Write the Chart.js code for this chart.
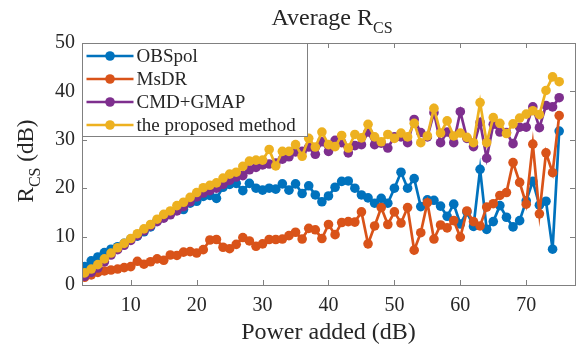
<!DOCTYPE html>
<html>
<head>
  <meta charset="UTF-8">
  <title>Average RCS</title>
  <script src="https://cdn.jsdelivr.net/npm/chart.js@4/dist/chart.umd.min.js"></script>
  <style>
    body { margin: 0; background: #fff; }
    #wrap { width: 582px; height: 347px; }
  </style>
</head>
<body>
  <div id="wrap"><canvas id="rcsChart" width="582" height="347"></canvas></div>

  <script>
    // x: power added (dB)
    const powerAdded = [3, 4, 5, 6, 7, 8, 9, 10, 11, 12, 13, 14, 15, 16, 17, 18, 19, 20, 21, 22, 23, 24, 25, 26, 27, 28, 29, 30,
      31, 32, 33, 34, 35, 36, 37, 38, 39, 40, 41, 42, 43, 44, 45, 46, 47, 48, 49, 50, 51, 52, 53, 54, 55, 56, 57, 58, 59, 60,
      61, 62, 63, 64, 65, 66, 67, 68, 69, 70, 71, 72, 73, 74, 75];

    const obspol = [3.8, 5.0, 5.8, 6.7, 7.4, 7.9, 8.6, 9.5, 10.1, 11.0, 12.0, 13.3, 14.3, 14.9, 15.6, 15.6, 16.9, 17.3, 18.3, 18.5,
      17.9, 20.2, 20.8, 21.0, 19.5, 21.0, 20.0, 19.6, 20.0, 19.8, 20.9, 19.6, 20.9, 18.9, 20.5, 18.6, 17.2, 18.4, 20.2, 21.4,
      21.5, 20.0, 18.6, 18.0, 16.9, 17.9, 16.9, 20.0, 23.3, 20.0, 22.0, 16.2, 17.6, 17.5, 16.3, 14.2, 16.7, 12.6, 15.1, 12.1,
      23.9, 11.5, 13.1, 16.4, 14.0, 12.0, 13.3, 17.4, 21.4, 16.5, 17.3, 7.4, 31.8];

    const msdr = [1.6, 2.1, 2.6, 2.9, 3.1, 3.3, 3.6, 3.8, 4.9, 4.3, 4.8, 5.4, 5.1, 6.2, 6.1, 6.8, 6.9, 6.6, 7.3, 9.3,
      9.4, 7.8, 7.5, 8.4, 9.8, 9.1, 8.0, 8.5, 9.4, 9.4, 9.5, 10.2, 10.9, 9.5, 11.7, 11.4, 9.6, 12.5, 10.4, 12.9,
      13.1, 13.0, 15.1, 8.5, 12.2, 16.0, 12.5, 15.1, 12.8, 16.0, 7.2, 10.8, 17.0, 9.5, 12.4, 11.8, 13.3, 9.9, 15.3, 13.1,
      12.2, 16.1, 16.8, 18.5, 19.1, 25.3, 21.2, 16.7, 29.1, 14.7, 27.3, 23.2, 35.0];

    const cmdGmap = [1.8, 2.6, 3.5, 4.8, 6.2, 7.3, 8.2, 9.2, 10.2, 11.2, 12.2, 13.1, 13.8, 14.5, 15.3, 16.2, 17.2, 18.2, 19.0, 19.5,
      20.0, 20.8, 21.6, 22.3, 22.6, 23.8, 24.3, 24.8, 25.0, 25.2, 26.0, 26.5, 27.5, 27.6, 28.5, 27.0, 29.6, 27.6, 29.9, 29.4,
      27.3, 28.8, 29.0, 31.6, 29.0, 29.3, 28.3, 30.6, 30.6, 29.4, 34.2, 31.5, 30.6, 35.6, 29.4, 31.6, 29.4, 35.8, 30.3, 28.6,
      33.6, 26.2, 33.2, 31.6, 31.5, 29.2, 32.6, 32.6, 36.8, 32.5, 37.1, 36.8, 38.7];

    const proposed = [2.5, 3.3, 4.2, 5.4, 6.6, 7.7, 8.6, 9.6, 10.6, 11.6, 12.5, 13.6, 14.6, 15.3, 16.4, 17.1, 18.1, 19.1, 20.1, 20.6,
      21.1, 22.1, 22.9, 23.3, 24.5, 25.6, 25.8, 25.8, 28.0, 24.6, 27.6, 27.6, 29.0, 26.6, 30.3, 28.5, 31.6, 29.0, 28.6, 30.9,
      28.3, 31.1, 30.4, 33.2, 30.6, 29.6, 31.1, 30.3, 31.4, 30.6, 33.4, 29.4, 30.8, 36.5, 31.4, 33.9, 30.8, 31.4, 30.5, 29.4,
      37.7, 29.4, 34.6, 33.4, 31.3, 33.3, 34.5, 35.3, 36.0, 35.2, 40.2, 43.0, 42.0];

    const seriesNames = ["OBSpol", "MsDR", "CMD+GMAP", "the proposed method"];
    const seriesColors = ["#0072BD", "#D95319", "#7E2F8E", "#EDB120"];
    const xTicks = [10, 20, 30, 40, 50, 60, 70];
    const yTicks = [0, 10, 20, 30, 40, 50];

    const SERIF = '"Liberation Serif", "Times New Roman", serif';
    const TEXT = "#262626";
    const AXIS = "#808080";

    function makeSet(i, values) {
      return {
        label: seriesNames[i],
        data: powerAdded.map((x, k) => ({ x: x, y: values[k] })),
        borderColor: seriesColors[i],
        backgroundColor: seriesColors[i],
        pointBackgroundColor: seriesColors[i],
        pointBorderWidth: 0,
        pointRadius: 4.8,
        borderWidth: 2.7,
        tension: 0,
        order: 4 - i
      };
    }

    // draws a text run with a subscript, starting at x (left aligned), baseline y
    function textWithSub(ctx, main, sub, x, y, size, subSize, drop) {
      ctx.font = size + "px " + SERIF;
      ctx.fillText(main, x, y);
      const w = ctx.measureText(main).width;
      ctx.font = subSize + "px " + SERIF;
      ctx.fillText(sub, x + w, y + drop);
      return w + ctx.measureText(sub).width;
    }

    function runWidth(ctx, parts) {
      let w = 0;
      parts.forEach(p => { ctx.font = p[1] + "px " + SERIF; w += ctx.measureText(p[0]).width; });
      return w;
    }

    // box, inward ticks, title, y label and legend
    const matlabAxes = {
      id: "matlabAxes",
      afterDatasetsDraw(chart) {
        const ctx = chart.ctx;
        const a = chart.chartArea;
        const xs = chart.scales.x, ys = chart.scales.y;
        ctx.save();
        ctx.strokeStyle = AXIS;
        ctx.lineWidth = 1;
        ctx.strokeRect(Math.round(a.left) + 0.5, Math.round(a.top) + 0.5,
          Math.round(a.right - a.left), Math.round(a.bottom - a.top));
        ctx.beginPath();
        xTicks.forEach(v => {
          const px = Math.round(xs.getPixelForValue(v)) + 0.5;
          ctx.moveTo(px, a.bottom); ctx.lineTo(px, a.bottom - 5);
          ctx.moveTo(px, a.top); ctx.lineTo(px, a.top + 5);
        });
        yTicks.forEach(v => {
          const py = Math.round(ys.getPixelForValue(v)) + 0.5;
          ctx.moveTo(a.left, py); ctx.lineTo(a.left + 5, py);
          ctx.moveTo(a.right, py); ctx.lineTo(a.right - 5, py);
        });
        ctx.stroke();

        // legend
        const lx = Math.round(a.left) + 0.5, ly = Math.round(a.top) + 0.5;
        ctx.fillStyle = "#fff";
        ctx.fillRect(lx, ly, 225, 93);
        ctx.strokeRect(lx, ly, 225, 93);
        ctx.textBaseline = "middle";
        ctx.textAlign = "left";
        seriesNames.forEach((name, i) => {
          const y = ly + 12.5 + i * 23;
          ctx.strokeStyle = seriesColors[i];
          ctx.lineWidth = 2.7;
          ctx.beginPath();
          ctx.moveTo(lx + 4, y); ctx.lineTo(lx + 51, y);
          ctx.stroke();
          ctx.fillStyle = seriesColors[i];
          ctx.beginPath();
          ctx.arc(lx + 27.5, y, 4.8, 0, Math.PI * 2);
          ctx.fill();
          ctx.fillStyle = TEXT;
          ctx.font = "19px " + SERIF;
          ctx.fillText(name, lx + 54, y + 1);
        });

        // title
        ctx.fillStyle = TEXT;
        ctx.textBaseline = "alphabetic";
        const tw = runWidth(ctx, [["Average R", 24], ["CS", 16]]);
        textWithSub(ctx, "Average R", "CS", 332 - tw / 2, 25, 24, 16, 8);

        // y label, rotated
        ctx.save();
        ctx.translate(33, 161);
        ctx.rotate(-Math.PI / 2);
        const yw = runWidth(ctx, [["R", 23], ["CS", 16], [" (dB)", 23]]);
        let x0 = -yw / 2;
        x0 += textWithSub(ctx, "R", "CS", x0, 0, 23, 16, 7);
        ctx.font = "23px " + SERIF;
        ctx.fillText(" (dB)", x0, 0);
        ctx.restore();

        ctx.restore();
      }
    };

    new Chart(document.getElementById("rcsChart").getContext("2d"), {
      type: "line",
      data: {
        datasets: [makeSet(0, obspol), makeSet(1, msdr), makeSet(2, cmdGmap), makeSet(3, proposed)]
      },
      options: {
        responsive: false,
        animation: false,
        layout: { padding: { top: 43, right: 7, left: 0, bottom: 0 } },
        plugins: {
          legend: { display: false },
          tooltip: { enabled: false },
          title: { display: false }
        },
        scales: {
          x: {
            type: "linear",
            min: 2.6,
            max: 77.4,
            afterBuildTicks: s => { s.ticks = xTicks.map(v => ({ value: v })); },
            afterFit: s => { s.height = 62; },
            grid: { display: false, drawTicks: false },
            border: { display: false },
            ticks: { color: TEXT, font: { family: SERIF, size: 20 }, padding: 9, maxRotation: 0 },
            title: { display: true, text: "Power added (dB)", color: TEXT, font: { family: SERIF, size: 24 }, padding: { top: 0, bottom: 0 } }
          },
          y: {
            min: 0,
            max: 50,
            afterBuildTicks: s => { s.ticks = yTicks.map(v => ({ value: v })); },
            afterFit: s => { s.width = 82; },
            grid: { display: false, drawTicks: false },
            border: { display: false },
            ticks: { color: TEXT, font: { family: SERIF, size: 20 }, padding: 7 }
          }
        }
      },
      plugins: [matlabAxes]
    });
  </script>
</body>
</html>
